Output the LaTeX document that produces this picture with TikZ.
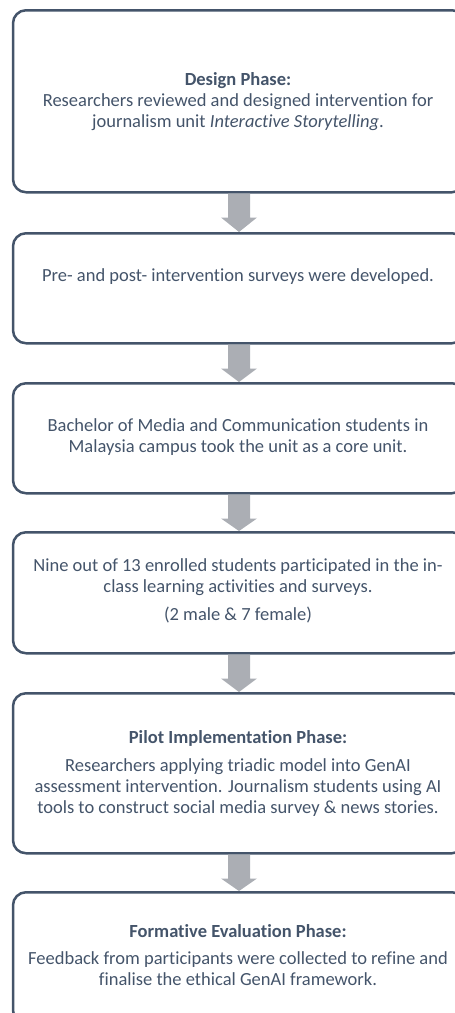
\documentclass[tikz,border=0pt]{standalone}
\usepackage{fontspec}
\setmainfont{Carlito}[RawFeature={-liga}]
\usetikzlibrary{calc}
\definecolor{txt}{RGB}{68,84,106}
\definecolor{brd}{RGB}{68,84,106}
\definecolor{arr}{RGB}{171,174,180}
\tikzset{
  phasebox/.style={draw=brd, line width=2.5pt, rounded corners=13pt, minimum width=452pt, inner sep=0pt, anchor=north},
  phasetext/.style={text=txt, align=center, font=\fontsize{18.5}{21}\selectfont, inner sep=0pt},
  flowarrow/.style={fill=arr, draw=none}
}
\newcommand{\flowarr}[2]{%
  \fill[flowarrow] ($(#1.south)+(-11pt,0)$) -- ($(#1.south)+(11pt,0)$) -- ($(#1.south)+(11pt,-24pt)$) -- ($(#1.south)+(18pt,-24pt)$) -- (#2.north) -- ($(#1.south)+(-18pt,-24pt)$) -- ($(#1.south)+(-11pt,-24pt)$) -- cycle;}
\begin{document}
\begin{tikzpicture}[x=1pt,y=-1pt]
\useasboundingbox (0,0) rectangle (455,1013);
\clip (0,0) rectangle (455,1013);
% boxes
\node[phasebox, minimum height=182pt] (b1) at (239,9) {};
\node[phasebox, minimum height=110pt] (b2) at (239,232) {};
\node[phasebox, minimum height=110pt] (b3) at (239,382) {};
\node[phasebox, minimum height=121pt] (b4) at (239,531) {};
\node[phasebox, minimum height=160pt] (b5) at (239,692) {};
\node[phasebox, minimum height=131pt] (b6) at (239,891) {};
% arrows
\flowarr{b1}{b2}
\flowarr{b2}{b3}
\flowarr{b3}{b4}
\flowarr{b4}{b5}
\flowarr{b5}{b6}
% texts
\node[phasetext] (t1) at (238,102) {\textbf{Design Phase:}\\[0pt]Researchers reviewed and designed intervention for\\journalism unit \textit{Interactive Storytelling}.};
\node[phasetext] (t2) at (238,277) {Pre- and post- intervention surveys were developed.};
\node[phasetext] (t3) at (238,437) {Bachelor of Media and Communication students in\\Malaysia campus took the unit as a core unit.};
\node[phasetext] (t4) at (238,591) {Nine out of 13 enrolled students participated in the in-\\class learning activities and surveys.\\[7pt](2 male \& 7 female)};
\node[phasetext] (t5) at (238,773) {\textbf{Pilot Implementation Phase:}\\[7pt]Researchers applying triadic model into GenAI\\assessment intervention. Journalism students using AI\\tools to construct social media survey \& news stories.};
\node[phasetext] (t6) at (238,955) {\textbf{Formative Evaluation Phase:}\\[6pt]Feedback from participants were collected to refine and\\finalise the ethical GenAI framework.};
\end{tikzpicture}
\end{document}
